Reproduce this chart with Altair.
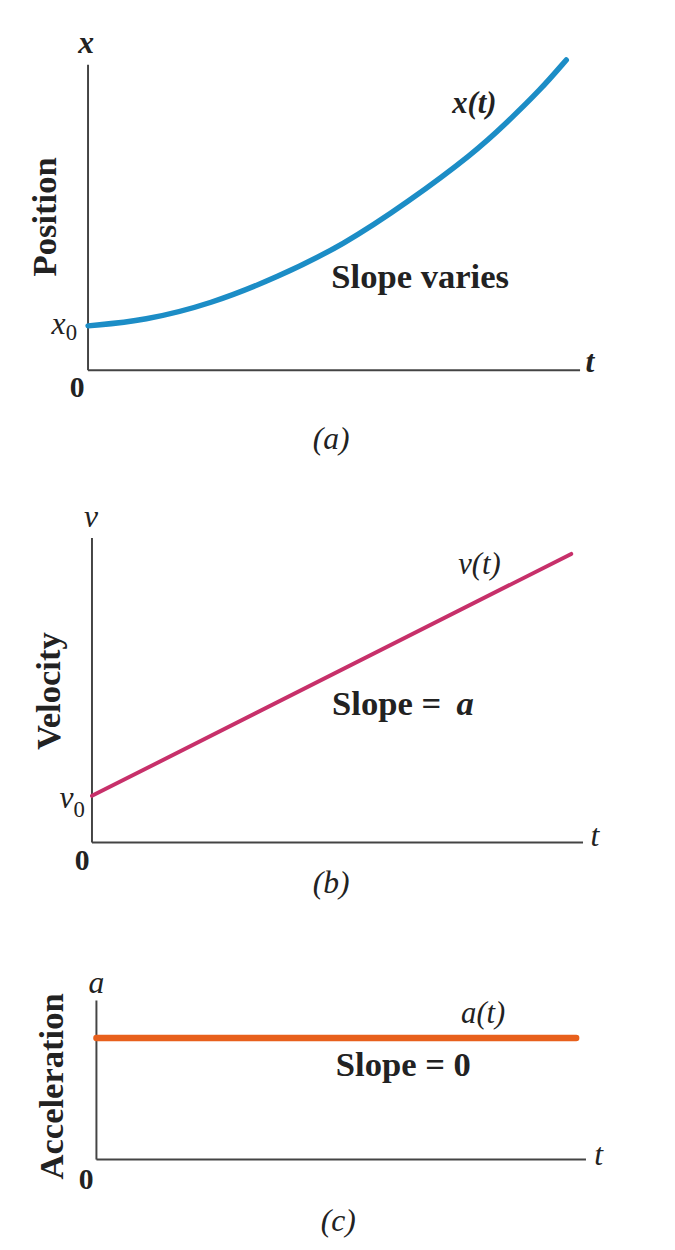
import altair as alt
import pandas as pd

# ---------------- data ----------------
# Panel (a): position x(t), curved
t_pos = [0.0, 1.15, 2.5, 3.85, 5.2, 6.5, 7.85, 8.5, 9.2, 9.72]
x_pos = [1.45, 1.62, 2.17, 3.04, 4.11, 5.50, 7.12, 8.09, 9.19, 10.16]
# Panel (b): velocity v(t), straight line
t_vel = [0.0, 9.76]
v_vel = [1.53, 9.48]
# Panel (c): acceleration a(t), constant
t_acc = [0.0, 9.8]
a_acc = [7.64, 7.64]

panel_titles = ["Position", "Velocity", "Acceleration"]
panel_tags = ["(a)", "(b)", "(c)"]
axis_letters = ["x", "v", "a"]
curve_labels = ["x(t)", "v(t)", "a(t)"]

SERIF = "Liberation Serif"
INK = "#222222"
AXIS = "#444444"
W = 667  # chart width inside the page margin


def scales(ox, oy, x10, y10, top, h):
    """Linear scales so that t=0..10 / value=0..10 land on the drawn axes."""
    kx = (x10 - ox) / 10.0
    ky = (oy - y10) / 10.0
    xdom = [(8 - ox) / kx, (8 + W - ox) / kx]
    ydom = [(oy - (top + h)) / ky, (oy - top) / ky]
    return (alt.Scale(domain=xdom, nice=False, zero=False),
            alt.Scale(domain=ydom, nice=False, zero=False))


def enc(xs, ys, x="t", y="v"):
    return dict(x=alt.X(f"{x}:Q", scale=xs, axis=None),
                y=alt.Y(f"{y}:Q", scale=ys, axis=None))


def txt(rows, xs, ys, **style):
    df = pd.DataFrame(rows, columns=["t", "v", "label"])
    base = dict(font=SERIF, color=INK, align="center", baseline="middle")
    base.update(style)
    return alt.Chart(df).mark_text(**base).encode(text="label:N", **enc(xs, ys))


def axes(xs, ys):
    h = pd.DataFrame({"t": [0.0], "t2": [10.0], "v": [0.0]})
    v = pd.DataFrame({"t": [0.0], "v": [0.0], "v2": [10.0]})
    hr = alt.Chart(h).mark_rule(color=AXIS, strokeWidth=2).encode(
        x2="t2:Q", **enc(xs, ys))
    vr = alt.Chart(v).mark_rule(color=AXIS, strokeWidth=2).encode(
        y2="v2:Q", **enc(xs, ys))
    return [hr, vr]


def panel(i, ts, vs, color, width, interp, ox, oy, x10, y10, top, h, lab,
          letter_weight="normal"):
    xs, ys = scales(ox, oy, x10, y10, top, h)
    df = pd.DataFrame({"t": ts, "v": vs})
    line = alt.Chart(df).mark_line(color=color, strokeWidth=width,
                                   interpolate=interp, strokeCap="round").encode(
        **enc(xs, ys))
    layers = axes(xs, ys) + [line]
    # axis letters and t
    layers.append(txt([lab["letter"] + [axis_letters[i]], lab["tlet"] + ["t"]],
                      xs, ys, fontSize=32, fontStyle="italic",
                      fontWeight=letter_weight))
    # origin zero
    layers.append(txt([lab["zero"] + ["0"]], xs, ys, fontSize=30, fontWeight="bold"))
    # curve label
    layers.append(txt([lab["curve"] + [curve_labels[i]]], xs, ys,
                      fontSize=31, fontStyle="italic", fontWeight=letter_weight))
    # vertical title
    layers.append(txt([lab["title"] + [panel_titles[i]]], xs, ys,
                      fontSize=35, fontWeight="bold", angle=270))
    # panel tag
    layers.append(txt([lab["tag"] + [panel_tags[i]]], xs, ys,
                      fontSize=32, fontStyle="italic"))
    # slope text
    for row, style in lab["slope"]:
        layers.append(txt([row], xs, ys, **style))
    # subscripted intercept label
    if "sub" in lab:
        layers.append(txt([lab["sub"][0] + [axis_letters[i]]], xs, ys,
                          fontSize=32, fontStyle="italic"))
        layers.append(txt([lab["sub"][1] + ["0"]], xs, ys, fontSize=23))
    return alt.layer(*layers).properties(width=W, height=h)


bold35 = dict(fontSize=35, fontWeight="bold")

pa = panel(0, t_pos, x_pos, "#1C8DC6", 5.5, "basis",
           89, 367, 587, 58, 8, 462,
           dict(letter=[-0.04, 10.72], tlet=[10.2, 0.25], zero=[-0.22, -0.6],
                curve=[7.85, 8.72], title=[-0.88, 5.02], tag=[4.94, -2.25],
                slope=[([6.75, 3.05, "Slope varies"], bold35)],
                sub=([-0.60, 1.5], [-0.34, 1.2])),
           letter_weight="bold")

pb = panel(1, t_vel, v_vel, "#C7306A", 4, "linear",
           93, 845, 590, 537, 470, 460,
           dict(letter=[-0.02, 10.7], tlet=[10.24, 0.2], zero=[-0.2, -0.6],
                curve=[7.89, 9.1], title=[-0.87, 4.97], tag=[4.87, -1.33],
                slope=[([4.89, 4.55, "Slope ="], dict(bold35, align="left")),
                       ([7.6, 4.55, "a"], dict(bold35, fontStyle="italic"))],
                sub=([-0.52, 1.45], [-0.26, 1.07])))

pc = panel(2, t_acc, a_acc, "#E8601C", 6.5, "linear",
           97.5, 1166, 593, 1005, 930, 320,
           dict(letter=[0.0, 11.1], tlet=[10.26, 0.3], zero=[-0.21, -1.3],
                curve=[7.9, 9.15], title=[-0.90, 4.6], tag=[4.94, -3.9],
                slope=[([4.89, 5.95, "Slope = 0"], dict(bold35, align="left"))]))

chart = alt.vconcat(pa, pb, pc, spacing=0).properties(
    padding=0, background="white"
).configure_view(stroke=None)

chart.save("out.html", embed_options={"renderer": "svg", "actions": False})
